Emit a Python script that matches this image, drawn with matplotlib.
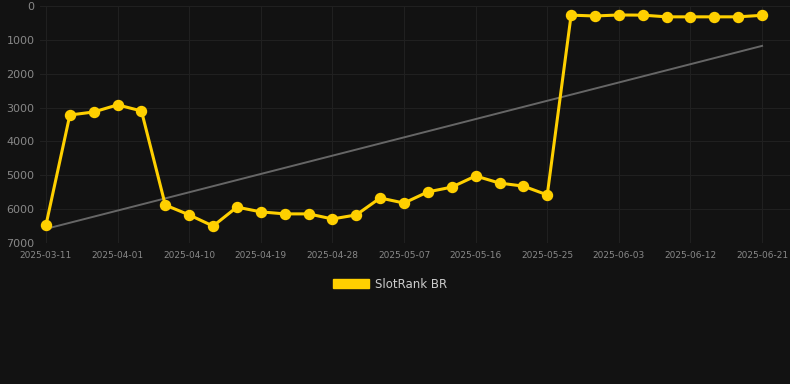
import numpy as np
import matplotlib
matplotlib.use('Agg')
import matplotlib.pyplot as plt
from matplotlib.patches import Patch

dates = ['2025-03-11', '2025-03-18', '2025-03-25', '2025-04-01', '2025-04-04', '2025-04-07',
         '2025-04-10', '2025-04-13', '2025-04-16', '2025-04-19', '2025-04-22', '2025-04-25',
         '2025-04-28', '2025-05-01', '2025-05-04', '2025-05-07', '2025-05-10', '2025-05-13',
         '2025-05-16', '2025-05-19', '2025-05-22', '2025-05-25', '2025-05-28', '2025-05-31',
         '2025-06-03', '2025-06-06', '2025-06-09', '2025-06-12', '2025-06-15', '2025-06-18',
         '2025-06-21']
rank = [6470, 3220, 3130, 2920, 3100, 5880, 6170, 6500, 5940, 6080, 6140, 6140,
        6290, 6170, 5670, 5820, 5490, 5350, 5020, 5230, 5320, 5580, 270, 295,
        265, 270, 320, 320, 320, 320, 275]
yticks = [0, 1000, 2000, 3000, 4000, 5000, 6000, 7000]

bg = '#121212'
yellow = '#FFD000'

fig = plt.figure(figsize=(7.9, 3.84), dpi=100, facecolor=bg)
ax = fig.add_axes([40 / 790, 1 - 243 / 384, 750 / 790, 237 / 384], facecolor=bg)

x = np.arange(len(dates))
# trend line (least squares fit)
k, b = np.polyfit(x, rank, 1)
ax.plot(x, k * x + b, color='#666666', lw=1.4, zorder=2)
ax.plot(x, rank, color=yellow, lw=2.2, marker='o', markersize=7.2, zorder=3)

ax.set_ylim(7000, 0)
ax.set_xlim(-0.25, 31.17)
ax.set_yticks(yticks)
ax.set_xticks(x[::3])
ax.set_xticklabels(dates[::3])
ax.tick_params(axis='y', colors='#888888', labelsize=8, length=0, pad=4)
ax.tick_params(axis='x', colors='#888888', labelsize=6.5, length=0, pad=6)
ax.grid(True, color='#202020', lw=0.8, zorder=0)
for s in ax.spines.values():
    s.set_visible(False)

fig.legend(handles=[Patch(facecolor=yellow, edgecolor=yellow)], labels=['SlotRank BR'],
           loc='center', bbox_to_anchor=(390 / 790, 1 - 284 / 384), frameon=False,
           handlelength=3.0, handleheight=0.9, handletextpad=0.5,
           labelcolor='#cccccc', fontsize=8.5)

fig.savefig('out.png', dpi=100, facecolor=bg)
